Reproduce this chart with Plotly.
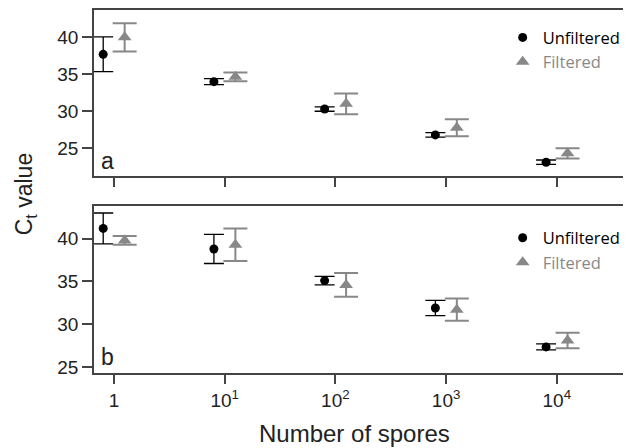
import plotly.graph_objects as go

spores = [1, 10, 100, 1000, 10000]
tick_text = ["1", "10<sup>1</sup>", "10<sup>2</sup>", "10<sup>3</sup>", "10<sup>4</sup>"]

# Panel a
a_unf = [37.7, 34.0, 30.3, 26.8, 23.1]
a_unf_err = [2.35, 0.4, 0.3, 0.3, 0.3]
a_fil = [40.0, 34.65, 31.0, 27.75, 24.3]
a_fil_err = [1.9, 0.6, 1.4, 1.15, 0.7]

# Panel b
b_unf = [41.2, 38.8, 35.1, 31.9, 27.35]
b_unf_err = [1.8, 1.7, 0.5, 0.9, 0.35]
b_fil = [39.8, 39.3, 34.6, 31.7, 28.1]
b_fil_err = [0.5, 1.9, 1.4, 1.3, 0.9]

UNF_SHIFT = 0.8
FIL_SHIFT = 1.25
x_unf = [s * UNF_SHIFT for s in spores]
x_fil = [s * FIL_SHIFT for s in spores]

GRAY = "#888888"
FRAME = "#444444"
FONT = "Liberation Sans, Arial, sans-serif"
LEGFONT = "Open Sans, sans-serif"

fig = go.Figure()

def add_pair(xa, ya, unf, unf_err, fil, fil_err, legend):
    fig.add_trace(go.Scatter(
        x=x_unf, y=unf, mode="markers", xaxis=xa, yaxis=ya,
        name="Unfiltered", legend=legend,
        marker=dict(symbol="circle", size=9, color="black"),
        error_y=dict(type="data", array=unf_err, color="black", thickness=1.3, width=10),
    ))
    fig.add_trace(go.Scatter(
        x=x_fil, y=fil, mode="markers", xaxis=xa, yaxis=ya,
        name="<span style='color:#888888'>Filtered</span>", legend=legend,
        marker=dict(symbol="triangle-up", size=12, color=GRAY),
        error_y=dict(type="data", array=fil_err, color=GRAY, thickness=2, width=12),
    ))

add_pair("x", "y", a_unf, a_unf_err, a_fil, a_fil_err, "legend")
add_pair("x2", "y2", b_unf, b_unf_err, b_fil, b_fil_err, "legend2")

xcommon = dict(
    type="log", range=[-0.18, 4.67], tickvals=spores, ticktext=tick_text,
    ticks="outside", ticklen=9, tickwidth=1.5, tickcolor=FRAME,
    showline=True, linecolor=FRAME, linewidth=1.8, mirror=True,
    showgrid=False, zeroline=False,
    tickfont=dict(family=FONT, size=19, color="#222"),
)
ycommon = dict(
    tickvals=[25, 30, 35, 40], ticks="outside", ticklen=10, tickwidth=1.5, tickcolor=FRAME,
    showline=True, linecolor=FRAME, linewidth=1.8, mirror=False,
    showgrid=False, zeroline=False,
    tickfont=dict(family=FONT, size=19, color="#222"),
)

legcommon = dict(
    font=dict(family=LEGFONT, size=16.5, color="black"),
    bgcolor="rgba(0,0,0,0)", xanchor="left", yanchor="top",
    itemclick=False, tracegroupgap=0,
)

fig.update_layout(
    width=623, height=440,
    margin=dict(l=86, r=0, t=2, b=75),
    plot_bgcolor="white", paper_bgcolor="white",
    xaxis=dict(**xcommon, domain=[0, 1], anchor="y", showticklabels=False),
    yaxis=dict(**ycommon, domain=[0.542, 1], range=[21.2, 43.7]),
    xaxis2=dict(**xcommon, domain=[0, 1], anchor="y2"),
    yaxis2=dict(**ycommon, domain=[0, 0.4596], range=[24.3, 43.8]),
    legend=dict(**legcommon, x=0.761, y=0.972),
    legend2=dict(**legcommon, x=0.761, y=0.420),
    showlegend=True,
    annotations=[
        dict(text="a", x=0.026, y=0.583, xref="paper", yref="paper", xanchor="center", yanchor="middle",
             showarrow=False, font=dict(family=FONT, size=23, color="#222")),
        dict(text="b", x=0.026, y=0.044, xref="paper", yref="paper", xanchor="center", yanchor="middle",
             showarrow=False, font=dict(family=FONT, size=23, color="#222")),
        dict(text="C<sub>t</sub> value", x=-0.128, y=0.493, xref="paper", yref="paper",
             xanchor="center", yanchor="middle", textangle=-90, showarrow=False,
             font=dict(family=FONT, size=23, color="#222")),
        dict(text="Number of spores", x=0.486, y=-0.168, xref="paper", yref="paper",
             xanchor="center", yanchor="middle", showarrow=False,
             font=dict(family=FONT, size=24, color="#222")),
    ],
)

fig.write_html("out.html")
